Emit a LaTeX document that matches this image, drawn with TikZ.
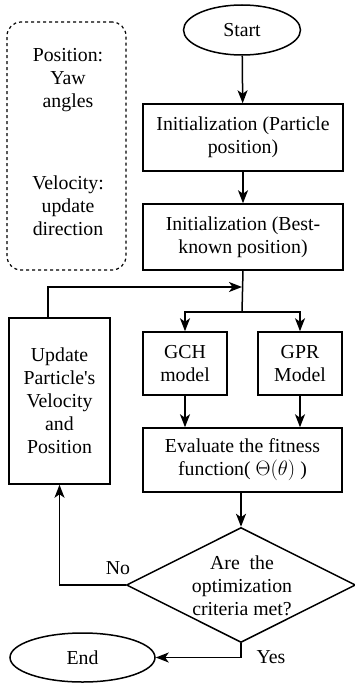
\documentclass[tikz,border=0pt]{standalone}
\usepackage{fontspec}
\setmainfont{Liberation Serif}[Ligatures=TeXOff]
\usetikzlibrary{arrows.meta,shapes.geometric}
\begin{document}
\begin{tikzpicture}[x=1pt,y=-1pt,
  every node/.style={font=\fontsize{19.8}{23}\selectfont},
  box/.style={draw,line width=1.5pt,align=center,inner sep=0pt},
  arr/.style={line width=1.5pt,-{Stealth[length=13pt,width=10pt,inset=3.5pt]}},
  ln/.style={line width=1.5pt}]
\useasboundingbox (0,0) rectangle (355,685);
\node[box,ellipse,minimum width=117pt,minimum height=50pt] (start) at (242,30) {Start};
\node[box,minimum width=200pt,minimum height=67pt] (init1) at (243,137.5) {Initialization (Particle\\position)};
\node[box,minimum width=200pt,minimum height=66pt] (init2) at (243,237) {Initialization (Best-\\known position)};
\node[draw,dashed,rounded corners=14pt,line width=1.2pt,minimum width=119pt,minimum height=248pt,align=center] (note) at (66.5,146) {};
\node[align=center] (pos) at (68,80) {Position:\\Yaw\\angles};
\node[align=center] (vel) at (68,206) {Velocity:\\update\\direction};
\coordinate (split) at (242,312);
\coordinate (loopin) at (242,287);
\node[box,minimum width=84pt,minimum height=63pt] (gch) at (185,363.5) {GCH\\model};
\node[box,minimum width=84pt,minimum height=63pt] (gpr) at (300,363.5) {GPR\\Model};
\node[box,minimum width=101pt,minimum height=166pt] (upd) at (59.5,401) {Update\\Particle's\\Velocity\\and\\Position};
\node[box,minimum width=199pt,minimum height=64pt] (eval) at (242.5,460) {Evaluate the fitness\\function( {\fontsize{22}{23}\selectfont$\Theta(\theta)$} )};
\node[box,diamond,aspect=2,minimum width=229pt,minimum height=115pt] (dec) at (241,585) {};
\node[align=center] (dect) at (242,586) {Are\ \ the\\optimization\\criteria met?};
\node[box,ellipse,minimum width=145pt,minimum height=49pt] (end) at (82.5,657.5) {End};
\draw[arr] (start) -- (init1);
\draw[arr] (init1) -- (init2);
\draw[ln] (init2.south) -- (split);
\draw[arr] (split) -| (gch.north);
\draw[arr] (split) -| (gpr.north);
\draw[arr] (upd.north -| 48,0) |- (loopin);
\draw[arr] (gch) -- (gch.center |- eval.north);
\draw[arr] (gpr) -- (gpr.center |- eval.north);
\draw[arr] (eval.south -| dec.north) -- (dec.north);
\draw[arr] (dec.west) -| (upd.south);
\draw[arr] (dec.south) |- (end.east);
\node (no) at (118,568) {No};
\node (yes) at (271,657) {Yes};
\end{tikzpicture}
\end{document}
